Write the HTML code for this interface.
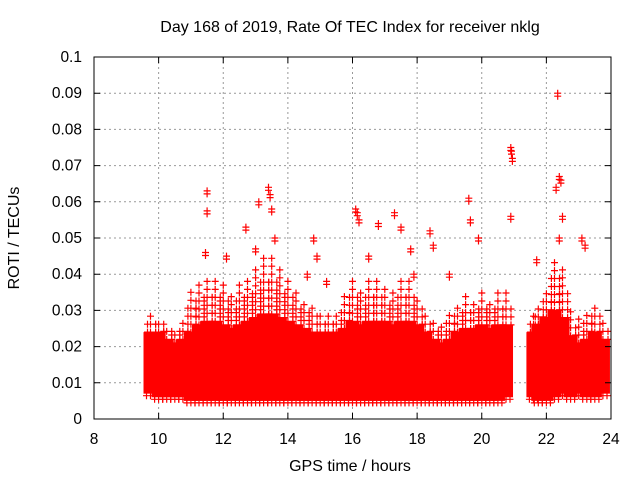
<!DOCTYPE html>
<html><head><meta charset="utf-8"><style>
body{margin:0;background:#fff}
svg{display:block;font-family:"Liberation Sans",sans-serif}
</style></head><body>
<svg id="chart" width="640" height="480">
<text x="350" y="32" text-anchor="middle" font-size="16">Day 168 of 2019, Rate Of TEC Index for receiver nklg</text>
<text x="0" y="0" transform="translate(19,238) rotate(-90)" text-anchor="middle" font-size="16">ROTI / TECUs</text>
<text x="350" y="471" text-anchor="middle" font-size="16">GPS time / hours</text>
<g id="grid"></g>
<g id="marks"></g>
<rect x="94" y="57" width="517" height="362" fill="none" stroke="#000" stroke-width="1"/>
<g id="ticks"></g>
</svg>
<script>
const xTicks=[8,10,12,14,16,18,20,22,24];
const yTicks=[0,0.01,0.02,0.03,0.04,0.05,0.06,0.07,0.08,0.09,0.1];
const yTickLabels=["0","0.01","0.02","0.03","0.04","0.05","0.06","0.07","0.08","0.09","0.1"];
const binTimes=[9.75,10,10.25,10.5,10.75,11,11.25,11.5,11.75,12,12.25,12.5,12.75,13,13.25,13.5,13.75,14,14.25,14.5,14.75,15,15.25,15.5,15.75,16,16.25,16.5,16.75,17,17.25,17.5,17.75,18,18.25,18.5,18.75,19,19.25,19.5,19.75,20,20.25,20.5,20.75,21.6,21.75,22,22.25,22.5,22.75,23,23.25,23.5,23.75];
const bandLow=[.007,.006,.006,.006,.006,.005,.005,.005,.005,.005,.005,.005,.005,.005,.005,.005,.005,.005,.005,.005,.005,.005,.005,.005,.005,.005,.005,.005,.005,.005,.005,.005,.005,.005,.005,.005,.005,.005,.005,.005,.005,.005,.005,.005,.006,.006,.005,.005,.006,.007,.006,.007,.006,.006,.007];
const bandHigh=[.024,.024,.022,.021,.022,.024,.026,.027,.027,.026,.025,.026,.027,.028,.029,.029,.028,.027,.026,.025,.024,.024,.024,.024,.025,.027,.026,.027,.027,.027,.026,.027,.027,.026,.024,.022,.021,.022,.024,.025,.025,.026,.025,.026,.026,.024,.026,.028,.03,.028,.023,.021,.022,.024,.022];
const fuzzHigh=[.03,.028,.026,.025,.028,.035,.038,.04,.04,.038,.035,.038,.04,.042,.045,.045,.042,.038,.035,.033,.032,.03,.03,.03,.035,.04,.036,.038,.038,.036,.035,.038,.038,.034,.03,.028,.026,.03,.032,.035,.033,.035,.033,.035,.035,.03,.032,.036,.045,.042,.03,.028,.03,.032,.028];
const spikeTimes=[11.5,11.45,11.5,12.7,13.1,13.4,13.5,13.6,13.0,14.8,14.9,16.1,16.2,16.5,16.8,17.3,17.5,17.8,18.4,18.5,19.0,19.6,19.65,19.9,20.9,20.95,20.9,21.7,22.35,22.4,22.45,22.3,22.5,22.4,23.1,23.2,12.1,14.6,15.2,17.9,13.45,16.15,20.92];
const spikeValues=[.063,.046,.0575,.053,.06,.064,.058,.05,.047,.05,.045,.058,.055,.045,.054,.057,.053,.047,.052,.048,.04,.061,.055,.05,.075,.072,.056,.044,.09,.067,.066,.064,.056,.05,.05,.048,.045,.04,.038,.04,.062,.057,.074];
const X0=94,X1=611,Y0=419,Y1=57;
const xs=t=>X0+(t-8)/16*(X1-X0);
const ys=v=>Y0-v/0.1*(Y0-Y1);
const NS="http://www.w3.org/2000/svg";
const grid=document.getElementById('grid'),ticks=document.getElementById('ticks'),marks=document.getElementById('marks');
function mk(tag,attrs,parent){const e=document.createElementNS(NS,tag);for(const k in attrs)e.setAttribute(k,attrs[k]);parent.appendChild(e);return e;}
xTicks.forEach((t,i)=>{const x=xs(t);
 if(i>0&&i<xTicks.length-1){const g=mk('line',{x1:x,x2:x,y1:Y0,y2:Y1,stroke:'#999','stroke-dasharray':'2,3'},grid);
 }
 const tk=mk('path',{d:`M${x} ${Y0}v-6M${x} ${Y1}v6`,stroke:'#000'},ticks);
 
 const l=mk('text',{x:x,y:444,'text-anchor':'middle','font-size':'15.5'},ticks);l.textContent=t;
 });
yTicks.forEach((v,i)=>{const y=ys(v);
 if(i>0&&i<yTicks.length-1){const g=mk('line',{x1:X0,x2:X1,y1:y,y2:y,stroke:'#999','stroke-dasharray':'2,3'},grid);
 }
 const tk=mk('path',{d:`M${X0} ${y}h6M${X1} ${y}h-6`,stroke:'#000'},ticks);
 
 const l=mk('text',{x:82,y:y+5,'text-anchor':'end','font-size':'15.5'},ticks);l.textContent=yTickLabels[i];
 });
function plus(x,y){return `M${(x-3.5).toFixed(1)} ${y.toFixed(1)}h7M${x.toFixed(1)} ${(y-3.5).toFixed(1)}v7`;}
binTimes.forEach((t,i)=>{let d='';
 const xa=xs(t-0.125)-3,xb=xs(t+0.125)+3;
 // solid dense band
 const r=mk('rect',{x:xa,y:ys(bandHigh[i]),width:xb-xa,height:ys(bandLow[i])-ys(bandHigh[i]),fill:'#f00'},marks);
 
 for(let c=0;c<3;c++){const x=xa+3+c*(xb-xa-6)/2;
  d+=plus(x,ys(bandLow[i])+2);
  const top=bandHigh[i]+(fuzzHigh[i]-bandHigh[i])*(c===1?1:0.6);
  for(let v=bandHigh[i];v<=top;v+=0.0022)d+=plus(x+(c===1?0:1),ys(v));}
 const p=mk('path',{d:d,stroke:'#f00','stroke-width':'1.2',fill:'none'},marks);
 });
spikeTimes.forEach((t,i)=>{const p=mk('path',{d:plus(xs(t),ys(spikeValues[i]))+plus(xs(t),ys(spikeValues[i])+3),stroke:'#f00','stroke-width':'1.2',fill:'none'},marks);
 });
</script>
</body></html>
